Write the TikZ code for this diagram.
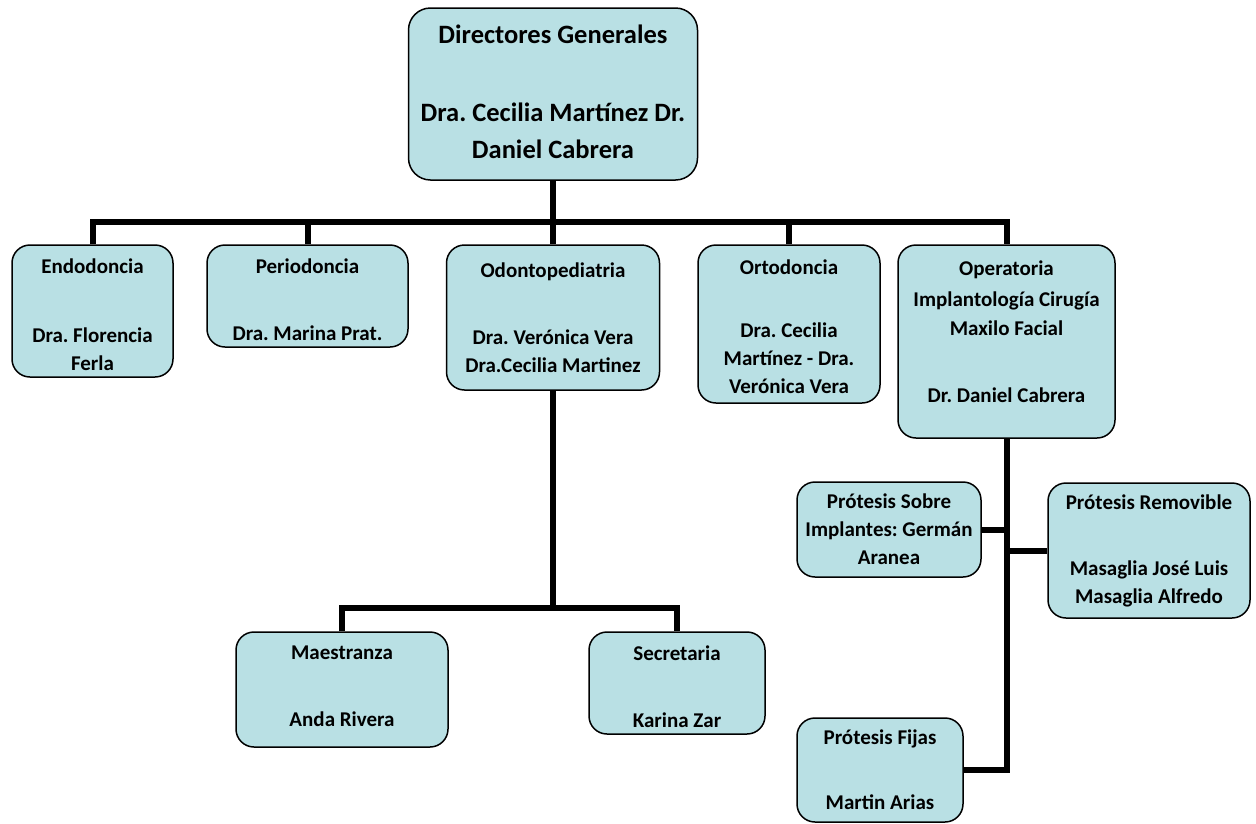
\documentclass[tikz,border=0pt]{standalone}
\usepackage{fontspec}
\setmainfont{Carlito}
\usepackage{xcolor}
\usetikzlibrary{positioning,calc}
\definecolor{unitfill}{RGB}{185,224,228}
% extra room above the first line / below the last line of a box
\newcommand{\padtop}[1]{\raisebox{#1}{\vphantom{d}}}
\newcommand{\padbot}[1]{\raisebox{-#1}{\vphantom{A}}}

\begin{document}
\frenchspacing
\begin{tikzpicture}[x=1pt,y=-1pt,
    unit/.style={draw=black,line width=1.5pt,fill=unitfill,rounded corners=18pt,
        align=center,inner sep=0pt,font=\fontsize{21}{28}\selectfont\bfseries},
    link/.style={line width=6pt,line join=miter}]
    \useasboundingbox (0,0) rectangle (1256,823);
    % top of the chart
    \node[unit,rounded corners=22pt,minimum width=289pt,minimum height=172pt,
        font=\fontsize{26.5}{37}\selectfont\bfseries] (top) at (553,94)
        {Directores Generales\\[41pt]Dra. Cecilia Martínez Dr.\\Daniel Cabrera\padbot{4pt}};
    % first row of units
    \node[unit,minimum width=161pt,minimum height=132pt] (endo) at (92.5,311)
        {\padtop{8pt}Endodoncia\\[41pt]Dra. Florencia\\Ferla};
    \node[unit,minimum width=201pt,minimum height=102pt] (perio) at (307.5,296)
        {\padtop{7pt}Periodoncia\\[39pt]Dra. Marina Prat.};
    \node[unit,minimum width=213pt,minimum height=145pt] (odonto) at (553,317.5)
        {Odontopediatria\\[39pt]Dra. Verónica Vera\\Dra.Cecilia Martinez};
    \node[unit,minimum width=182pt,minimum height=158pt] (orto) at (789,324)
        {\padtop{6pt}Ortodoncia\\[35pt]Dra. Cecilia\\Martínez - Dra.\\Verónica Vera};
    \node[unit,minimum width=217pt,minimum height=193pt] (oper) at (1006.5,341.5)
        {Operatoria\\[3pt]Implantología Cirugía\\[1pt]Maxilo Facial\\[39pt]Dr. Daniel Cabrera\\[-8pt]\mbox{}};
    % units under odontopediatria
    \node[unit,minimum width=212pt,minimum height=115pt] (maes) at (342,689.5)
        {Maestranza\\[39pt]Anda Rivera\padbot{6pt}};
    \node[unit,minimum width=176pt,minimum height=102pt] (secr) at (677,683)
        {\padtop{8pt}Secretaria\\[39pt]Karina Zar};
    % units under operatoria
    \node[unit,minimum width=184pt,minimum height=95pt] (sobre) at (889,529.5)
        {Prótesis Sobre\\Implantes: Germán\\Aranea};
    \node[unit,minimum width=202pt,minimum height=135pt] (remov) at (1149,550.5)
        {Prótesis Removible\\[38pt]Masaglia José Luis\\Masaglia Alfredo};
    \node[unit,minimum width=166pt,minimum height=104pt] (fijas) at (880,770)
        {Prótesis Fijas\\[37pt]Martin Arias};
    % connectors
    \coordinate (bus) at (553,222);
    \coordinate (bus2) at (553,608);
    \draw[link] (top.south) -- (odonto.north);
    \draw[link] (endo.north) -- (endo.north |- bus) -| (oper.north);
    \foreach \n in {perio,orto}
    {
        \draw[link] (\n.north) -- (\n.north |- bus);
    }
    \draw[link] (odonto.south) -- (bus2);
    \draw[link] (maes.north) -- (maes.north |- bus2) -| (secr.north);
    \draw[link] (oper.south) |- (fijas.east);
    \draw[link] (sobre.east) -- (sobre.east -| oper.south);
    \draw[link] (remov.west) -- (remov.west -| oper.south);
\end{tikzpicture}
\end{document}
